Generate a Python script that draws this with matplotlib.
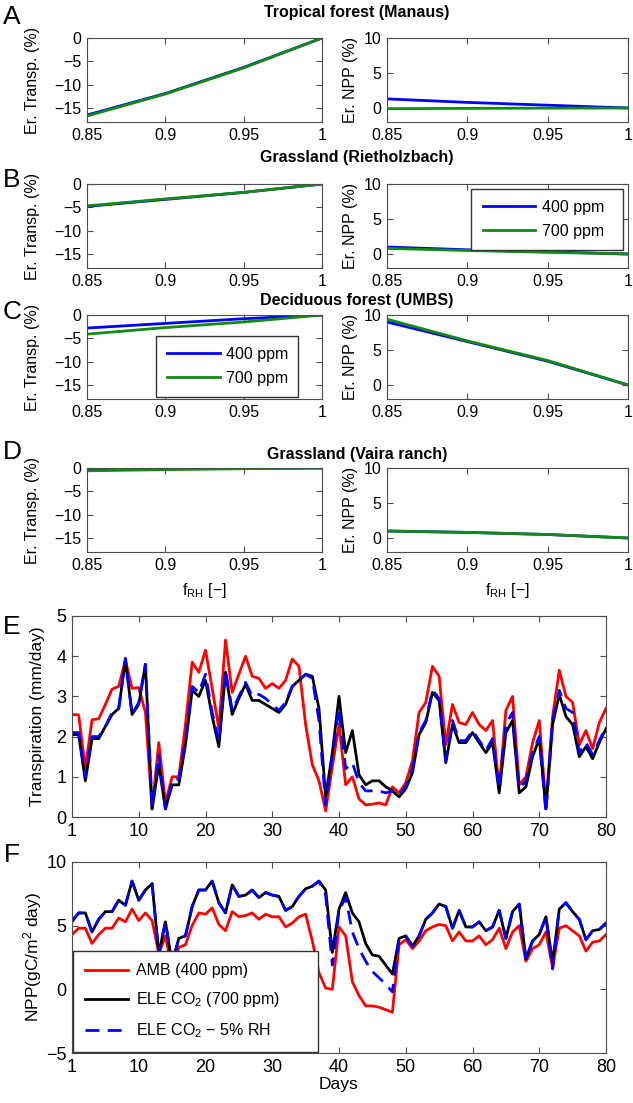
import numpy as np
import matplotlib
matplotlib.use('Agg')
import matplotlib.pyplot as plt

plt.rcParams['font.family'] = ['Liberation Sans', 'DejaVu Sans']
plt.rcParams['mathtext.fontset'] = 'custom'
plt.rcParams['mathtext.rm'] = 'Liberation Sans'
plt.rcParams['mathtext.it'] = 'Liberation Sans:italic'

# sensitivity panels A-D
f_rh = [0.85, 0.9, 0.95, 1.0]
sites = ['Tropical forest (Manaus)', 'Grassland (Rietholzbach)',
         'Deciduous forest (UMBS)', 'Grassland (Vaira ranch)']
panel_letters = ['A', 'B', 'C', 'D']
transp_400 = [[-16.5, -11.9, -6.3, 0.0],
              [-4.8, -3.3, -1.8, 0.0],
              [-2.8, -1.8, -0.8, 0.0],
              [-0.3, -0.15, -0.05, 0.0]]
transp_700 = [[-16.7, -12.0, -6.4, 0.0],
              [-4.7, -3.2, -1.8, 0.0],
              [-4.1, -2.7, -1.5, 0.0],
              [-0.6, -0.35, -0.15, 0.0]]
npp_400 = [[1.3, 0.8, 0.4, 0.0],
           [1.0, 0.6, 0.3, 0.0],
           [9.0, 6.2, 3.4, 0.0],
           [1.0, 0.8, 0.5, 0.0]]
npp_700 = [[-0.1, -0.05, -0.02, 0.0],
           [0.8, 0.5, 0.25, 0.0],
           [9.4, 6.3, 3.5, 0.0],
           [1.0, 0.8, 0.5, 0.0]]
ppm_labels = ['400 ppm', '700 ppm']

# daily time series E-F
days = np.arange(0, 81)
day_ticks = [0, 10, 20, 30, 40, 50, 60, 70, 80]
day_ticklabels = ['1', '10', '20', '30', '40', '50', '60', '70', '80']

trans_amb = [2.55, 2.54, 1.2, 2.42, 2.44, 2.8, 3.18, 3.25, 3.9, 3.2,
             3.22, 2.6, 0.2, 1.85, 0.35, 1.0, 1.0, 2.3, 3.85, 3.6,
             4.15, 3.2, 2.2, 4.4, 3.1, 3.55, 4.0, 3.5, 3.45, 3.2,
             3.32, 3.2, 3.4, 3.93, 3.75, 2.3, 1.3, 0.9, 0.15, 1.25,
             2.3, 0.8, 1.0, 0.45, 0.3, 0.32, 0.35, 0.3, 0.75, 0.6,
             0.85, 1.4, 2.6, 2.85, 3.75, 3.5, 1.8, 2.8, 2.35, 2.3,
             2.6, 2.3, 2.15, 2.4, 0.7, 2.65, 3.0, 0.8, 1.0, 1.85,
             2.4, 0.3, 2.5, 3.65, 3.0, 2.85, 1.8, 2.15, 1.7, 2.35, 2.7]
trans_ele = [2.05, 2.05, 0.9, 1.95, 1.95, 2.25, 2.55, 2.7, 3.9, 2.55,
             2.8, 3.8, 0.2, 1.3, 0.2, 0.8, 0.8, 1.8, 3.15, 3.0,
             3.4, 2.5, 1.75, 3.6, 2.55, 2.95, 3.3, 2.9, 2.9, 2.8,
             2.7, 2.6, 2.8, 3.25, 3.4, 3.55, 3.5, 2.7, 0.5, 1.6,
             3.0, 1.6, 2.15, 1.05, 0.8, 0.9, 0.9, 0.75, 0.65, 0.5,
             0.7, 1.1, 2.05, 2.35, 3.1, 2.9, 1.35, 2.3, 1.85, 1.85,
             2.1, 1.85, 1.6, 1.85, 0.6, 2.1, 2.4, 0.6, 0.75, 1.5,
             1.95, 0.2, 2.3, 3.05, 2.5, 2.3, 1.5, 1.75, 1.45, 1.85, 2.2]
trans_ele_rh = [2.1, 2.1, 1.0, 2.0, 2.0, 2.25, 2.6, 2.7, 3.95, 2.55,
                2.85, 3.8, 0.25, 1.55, 0.2, 0.9, 0.95, 1.9, 3.25, 3.1,
                3.55, 2.6, 1.9, 3.65, 2.65, 3.0, 3.35, 3.0, 3.05, 2.95,
                2.8, 2.65, 2.85, 3.25, 3.4, 3.55, 3.45, 2.4, 0.3, 1.5,
                2.7, 1.2, 1.35, 0.85, 0.65, 0.65, 0.65, 0.6, 0.65, 0.55,
                0.75, 1.2, 2.1, 2.4, 3.15, 2.95, 1.4, 2.4, 1.9, 1.9,
                2.15, 1.9, 1.65, 1.95, 0.7, 2.3, 2.6, 0.7, 0.9, 1.6,
                2.0, 0.1, 2.4, 3.15, 2.7, 2.6, 1.6, 1.85, 1.55, 1.9, 2.25]

npp_amb = [4.3, 4.8, 4.8, 3.6, 4.3, 4.8, 4.8, 5.6, 5.3, 6.3,
           5.4, 6.0, 5.4, 2.8, 4.2, 1.5, 3.3, 3.5, 5.0, 6.0,
           5.9, 6.4, 5.1, 4.6, 6.1, 5.7, 5.8, 6.0, 5.5, 5.9,
           5.7, 5.7, 4.9, 5.2, 5.7, 5.9, 3.8, 1.3, 0.1, 0.0,
           4.9, 4.2, 0.6, -0.5, -1.3, -1.3, -1.4, -1.6, -1.8, 3.5,
           3.9, 3.2, 3.8, 4.6, 4.9, 5.1, 5.0, 3.8, 4.5, 3.8,
           3.8, 4.2, 3.5, 3.9, 4.8, 3.2, 4.5, 5.0, 2.2, 3.2,
           3.5, 4.5, 1.7, 4.8, 5.0, 4.6, 4.2, 3.0, 3.7, 3.8, 4.3]
npp_ele = [5.3, 6.0, 6.0, 4.5, 5.5, 6.1, 6.1, 7.0, 6.6, 8.5,
           7.0, 7.8, 8.3, 2.8, 5.3, 2.0, 4.0, 4.2, 6.5, 7.8,
           7.8, 8.5, 6.8, 6.0, 8.2, 7.3, 7.4, 7.8, 7.2, 7.6,
           7.4, 7.3, 6.2, 6.5, 7.3, 7.9, 8.1, 8.5, 7.8, 2.9,
           6.3, 7.6, 6.0, 5.3, 3.6, 2.7, 2.6, 1.9, 1.2, 4.0,
           4.2, 3.4, 4.2, 5.5, 6.0, 6.7, 6.5, 4.8, 6.2, 4.9,
           4.9, 5.3, 4.6, 4.9, 6.2, 4.0, 6.1, 6.7, 2.4, 3.8,
           4.3, 5.7, 2.1, 6.3, 6.8, 6.1, 5.5, 3.9, 4.6, 4.7, 5.2]
npp_ele_rh = [5.4, 6.0, 6.0, 4.5, 5.5, 6.1, 6.1, 7.0, 6.6, 8.5,
              7.0, 7.8, 8.3, 2.8, 5.3, 2.0, 4.0, 4.2, 6.5, 7.8,
              7.8, 8.5, 6.8, 6.0, 8.2, 7.3, 7.4, 7.8, 7.2, 7.6,
              7.4, 7.3, 6.2, 6.5, 7.3, 7.9, 8.1, 8.5, 7.4, 1.9,
              6.2, 7.2, 4.5, 3.2, 2.2, 1.4, 0.9, 0.4, -0.2, 4.0,
              4.2, 3.4, 4.2, 5.5, 6.0, 6.7, 6.5, 4.8, 6.2, 4.9,
              4.9, 5.3, 4.6, 4.9, 6.2, 4.0, 6.1, 6.7, 2.4, 3.8,
              4.3, 5.7, 1.6, 6.3, 6.8, 6.1, 5.5, 3.9, 4.6, 4.7, 5.2]
series_labels = ['AMB (400 ppm)', 'ELE CO$_2$ (700 ppm)', 'ELE CO$_2$ \u2212 5% RH']

W, H = 633, 1103
BLUE = '#0000ff'
GREEN = '#138a13'
SPINE = '0.3'


def box(x0, y0, x1, y1):
    # pixel box (top-left origin) -> figure fraction
    return [x0 / W, 1 - y1 / H, (x1 - x0) / W, (y1 - y0) / H]


def style(ax, size):
    for s in ax.spines.values():
        s.set_color(SPINE)
        s.set_linewidth(0.8)
    ax.tick_params(direction='in', top=True, right=True, length=4,
                   color=SPINE, labelsize=size, pad=4)


fig = plt.figure(figsize=(W / 100, H / 100), dpi=100)

row_tops = [38, 184, 315, 468]
title_y = [13, 157, 300, 454]
letter_y = [17, 180, 312, 452]
row_h = 84

for i in range(4):
    y0 = row_tops[i]
    axl = fig.add_axes(box(87, y0, 322, y0 + row_h))
    axr = fig.add_axes(box(387, y0, 628, y0 + row_h))

    l1, = axl.plot(f_rh, transp_400[i], color=BLUE, lw=2)
    l2, = axl.plot(f_rh, transp_700[i], color=GREEN, lw=2)
    axl.set_ylim(-18, 0)
    axl.set_yticks([0, -5, -10, -15])

    axr.plot(f_rh, npp_400[i], color=BLUE, lw=2)
    axr.plot(f_rh, npp_700[i], color=GREEN, lw=2)
    axr.set_ylim(-2, 10)
    axr.set_yticks([0, 5, 10])

    for ax in (axl, axr):
        ax.set_xlim(0.85, 1.0)
        ax.set_xticks(f_rh)
        ax.set_xticklabels(['0.85', '0.9', '0.95', '1'])
        style(ax, 11.5)

    fig.text(33 / W, 1 - (y0 + row_h / 2) / H, 'Er. Transp. (%)', rotation=90,
             ha='center', va='center', fontsize=11.5)
    fig.text(350 / W, 1 - (y0 + row_h / 2) / H, 'Er. NPP (%)', rotation=90,
             ha='center', va='center', fontsize=11.5)
    fig.text(357 / W, 1 - title_y[i] / H, sites[i], ha='center', va='center',
             fontsize=11.5, fontweight='bold')
    fig.text(12 / W, 1 - letter_y[i] / H, panel_letters[i], ha='center',
             va='center', fontsize=19)

    legend_kw = dict(loc='upper left', mode='expand', fontsize=11.5,
                     handlelength=3.3, handletextpad=0.4, borderpad=0.7,
                     labelspacing=0.55, fancybox=False, edgecolor='0.2',
                     framealpha=1, borderaxespad=0)
    if i == 1:
        axr.legend([l1, l2], ppm_labels,
                   bbox_to_anchor=(0.35, 0.946, 0.63, 0.0), **legend_kw)
    if i == 2:
        axl.legend([l1, l2], ppm_labels,
                   bbox_to_anchor=(0.293, 0.755, 0.604, 0.0), **legend_kw)
    if i == 3:
        for xc in (204, 507):
            fig.text(xc / W, 1 - 590 / H, 'f$_{\\mathrm{RH}}$ [\u2212]',
                     ha='center', va='center', fontsize=11.5)

# panel E
axE = fig.add_axes(box(72, 616, 606, 817))
axE.plot(days, trans_amb, color='red', lw=2)
axE.plot(days, trans_ele, color='black', lw=2)
axE.plot(days, trans_ele_rh, color=BLUE, lw=2, dashes=(5, 3))
axE.set_ylim(0, 5)
axE.set_yticks([0, 1, 2, 3, 4, 5])
fig.text(38 / W, 1 - 716 / H, 'Transpiration (mm/day)', rotation=90,
         ha='center', va='center', fontsize=12.5)
fig.text(12 / W, 1 - 627 / H, 'E', ha='center', va='center', fontsize=19)

# panel F
axF = fig.add_axes(box(72, 862, 606, 1053))
hF = []
hF += axF.plot(days, npp_amb, color='red', lw=2)
hF += axF.plot(days, npp_ele, color='black', lw=2)
hF += axF.plot(days, npp_ele_rh, color=BLUE, lw=2, dashes=(5, 3))
axF.set_ylim(-5, 10)
axF.set_yticks([-5, 0, 5, 10])
axF.set_xlabel('Days', fontsize=12.5, labelpad=1)
fig.text(33 / W, 1 - 957 / H, 'NPP(gC/m$^2$ day)', rotation=90,
         ha='center', va='center', fontsize=12.5)
fig.text(12 / W, 1 - 855 / H, 'F', ha='center', va='center', fontsize=19)
axF.legend(hF, series_labels, loc='lower left',
           bbox_to_anchor=(0.002, 0.005, 0.458, 0.0), mode='expand',
           fontsize=11.5, handlelength=2.7, handletextpad=0.5, borderpad=0.75,
           fancybox=False, edgecolor='0.2', framealpha=1, borderaxespad=0,
           labelspacing=0.75)

for ax in (axE, axF):
    ax.set_xlim(0, 80)
    ax.set_xticks(day_ticks)
    ax.set_xticklabels(day_ticklabels)
    style(ax, 13)

fig.savefig('out.png', dpi=100)
